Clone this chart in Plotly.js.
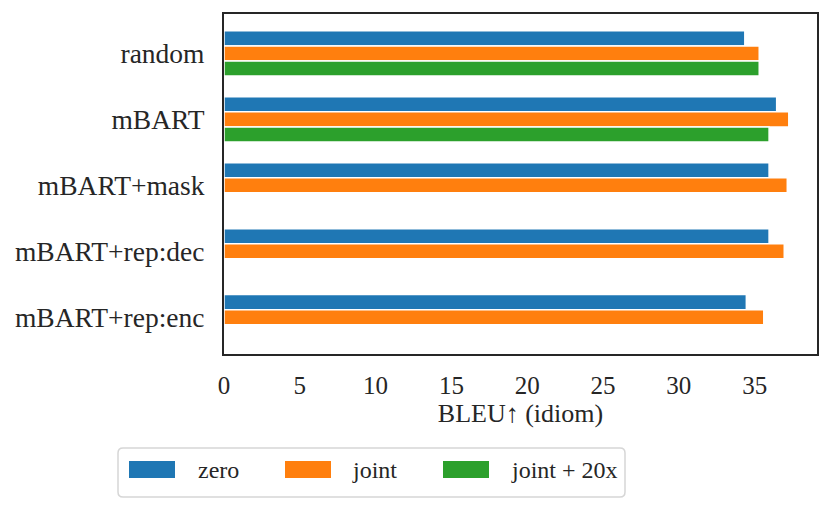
<!DOCTYPE html>
<html>
<head>
<meta charset="utf-8">
<script src="https://cdn.plot.ly/plotly-3.0.1.min.js"></script>
<style>
  html, body { margin: 0; padding: 0; background: #fff; }
  #chart { width: 831px; height: 511px; }
</style>
</head>
<body>
<div id="chart"></div>
<script>
// ---- data ----
const models = ["random", "mBART", "mBART+mask", "mBART+rep:dec", "mBART+rep:enc"];
const zeroBleu = [34.35, 36.45, 35.95, 35.95, 34.45];
const jointBleu = [35.3, 37.25, 37.15, 36.95, 35.6];
const joint20xBleu = [35.3, 35.95, null, null, null];

const seriesNames = ["zero", "joint", "joint + 20x"];
const seriesColors = ["#1f77b4", "#ff7f0e", "#2ca02c"];
const seriesValues = [zeroBleu, jointBleu, joint20xBleu];

const xTicks = [0, 5, 10, 15, 20, 25, 30, 35];

// ---- geometry (pixels of the 831x511 page) ----
const W = 831, H = 511;
const plotL = 224, plotR = 817, plotT = 14, plotB = 354;
const px = x => (x - plotL) / (plotR - plotL);
const py = y => (plotB - y) / (plotB - plotT);

const FONT = "Liberation Serif";
const INK = "#262626";

const traces = seriesNames.map((name, i) => ({
  type: "bar",
  orientation: "h",
  name: name,
  y: models,
  x: seriesValues[i],
  marker: { color: seriesColors[i], line: { color: "#ffffff", width: 1.5 } },
  showlegend: false,
  hoverinfo: "x+y+name"
}));

// ---- hand-built legend to match the matplotlib look ----
const shapes = [];
const annotations = [];
const boxL = 118, boxR = 625, boxT = 448, boxB = 497, rad = 5;
{
  const x0 = px(boxL), x1 = px(boxR), y0 = py(boxB), y1 = py(boxT);
  const rx = rad / (plotR - plotL), ry = rad / (plotB - plotT);
  const path = `M ${x0 + rx},${y1} L ${x1 - rx},${y1} Q ${x1},${y1} ${x1},${y1 - ry} ` +
    `L ${x1},${y0 + ry} Q ${x1},${y0} ${x1 - rx},${y0} L ${x0 + rx},${y0} ` +
    `Q ${x0},${y0} ${x0},${y0 + ry} L ${x0},${y1 - ry} Q ${x0},${y1} ${x0 + rx},${y1} Z`;
  shapes.push({
    type: "path", xref: "paper", yref: "paper", path: path,
    line: { color: "#d6d6d6", width: 1.5 }, fillcolor: "rgba(255,255,255,0.9)", layer: "above"
  });
}
const patchX = [129, 285, 443];
const textX = [196, 350, 509];
seriesNames.forEach((name, i) => {
  shapes.push({
    type: "rect", xref: "paper", yref: "paper",
    x0: px(patchX[i]), x1: px(patchX[i] + 46), y0: py(478), y1: py(461),
    fillcolor: seriesColors[i], line: { width: 0 }, layer: "above"
  });
  annotations.push({
    xref: "paper", yref: "paper", x: px(textX[i]), y: py(470),
    xanchor: "left", yanchor: "middle", showarrow: false,
    text: name, font: { family: FONT, size: 24, color: INK }
  });
});

const layout = {
  width: W,
  height: H,
  paper_bgcolor: "#ffffff",
  plot_bgcolor: "#ffffff",
  font: { family: FONT, color: INK },
  margin: { l: plotL, r: W - plotR, t: plotT, b: H - plotB, pad: 0 },
  barmode: "group",
  bargap: 0.314,
  bargroupgap: 0,
  showlegend: false,
  xaxis: {
    range: [0, 39.11],
    tickvals: xTicks,
    ticktext: xTicks.map(String),
    showgrid: false,
    zeroline: false,
    showline: true,
    linecolor: INK,
    linewidth: 2,
    mirror: true,
    ticks: "",
    ticklabelstandoff: 8,
    tickfont: { family: FONT, size: 25, color: INK },
    title: { text: "BLEU↑ (idiom)", font: { family: FONT, size: 26, color: INK }, standoff: 3 }
  },
  yaxis: {
    type: "category",
    range: [4.558, -0.598],
    showgrid: false,
    zeroline: false,
    showline: true,
    linecolor: INK,
    linewidth: 2,
    mirror: true,
    ticks: "",
    ticklabelstandoff: 12,
    tickfont: { family: FONT, size: 27.5, color: INK }
  },
  shapes: shapes,
  annotations: annotations
};

Plotly.newPlot("chart", traces, layout, { displayModeBar: false, staticPlot: true });
</script>
</body>
</html>
